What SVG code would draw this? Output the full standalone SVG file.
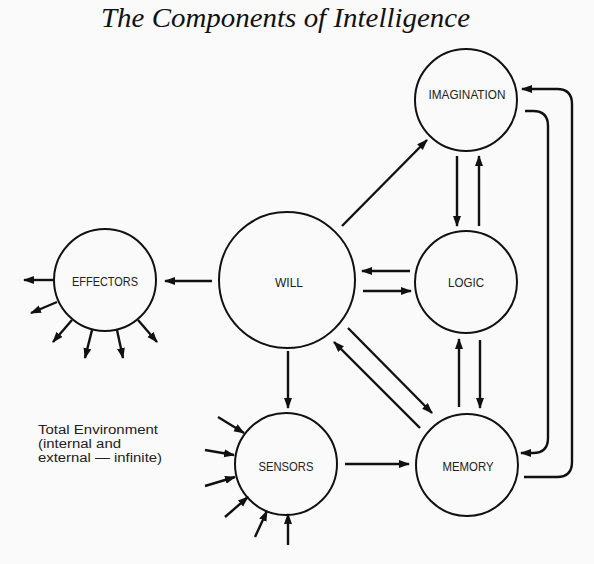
<svg xmlns="http://www.w3.org/2000/svg" width="594" height="564" viewBox="0 0 594 564">
<style>
.node{fill:none;stroke:#111;stroke-width:2}
.lbl{font-family:"Liberation Sans",Arial,sans-serif;font-size:13px;fill:#222;text-anchor:middle}
.c{fill:none;stroke:#111;stroke-width:2.4;marker-end:url(#ah)}
.title{font-family:"Liberation Serif","Times New Roman",serif;font-style:italic;font-size:27px;fill:#111}
.env{font-family:"Liberation Sans",Arial,sans-serif;font-size:12.5px;fill:#222}
</style>
<defs>
<marker id="ah" markerUnits="userSpaceOnUse" markerWidth="12" markerHeight="10" refX="10" refY="4" orient="auto">
<path d="M0,0 L11,4 L0,8 Z" fill="#111"/>
</marker>
</defs>
<rect width="594" height="564" fill="#fafafa"/>
<text class="title" x="101" y="27" textLength="369" lengthAdjust="spacingAndGlyphs">The Components of Intelligence</text>

<g id="imagination"><circle class="node" cx="466" cy="100" r="51"/><text class="lbl" x="467" y="99" textLength="77" lengthAdjust="spacingAndGlyphs">IMAGINATION</text></g>
<g id="logic"><circle class="node" cx="466" cy="282" r="51"/><text class="lbl" x="466" y="287" textLength="36" lengthAdjust="spacingAndGlyphs">LOGIC</text></g>
<g id="memory"><circle class="node" cx="467" cy="465" r="51"/><text class="lbl" x="468" y="471" textLength="51" lengthAdjust="spacingAndGlyphs">MEMORY</text></g>
<g id="will"><circle class="node" cx="287" cy="280" r="68"/><text class="lbl" x="289" y="287" textLength="28" lengthAdjust="spacingAndGlyphs">WILL</text></g>
<g id="effectors"><circle class="node" cx="105" cy="280" r="51"/><text class="lbl" x="105" y="286" textLength="66" lengthAdjust="spacingAndGlyphs">EFFECTORS</text></g>
<g id="sensors"><circle class="node" cx="286" cy="464" r="51"/><text class="lbl" x="286" y="471" textLength="55" lengthAdjust="spacingAndGlyphs">SENSORS</text></g>
<g id="environment"><text class="env" x="38" y="434" textLength="120" lengthAdjust="spacingAndGlyphs">Total Environment</text><text class="env" x="38" y="448" textLength="83" lengthAdjust="spacingAndGlyphs">(internal and</text><text class="env" x="38" y="462" textLength="124" lengthAdjust="spacingAndGlyphs">external — infinite)</text></g>

<g id="connectors">
<path class="c" d="M342,226 L427,140"/>
<path class="c" d="M457,156 V226"/>
<path class="c" d="M479,226 V156"/>
<path class="c" d="M410,271 H362"/>
<path class="c" d="M363,291 H411"/>
<path class="c" d="M212,281 H165"/>
<path class="c" d="M288,351 V408"/>
<path class="c" d="M345,464 H409"/>
<path class="c" d="M348,328 L432,413"/>
<path class="c" d="M420,428 L334,342"/>
<path class="c" d="M459,407 V339"/>
<path class="c" d="M480,340 V408"/>
<path class="c" d="M525,111 H533 Q548,111 548,126 V438 Q548,453 533,453 H521"/>
<path class="c" d="M524,477 H557 Q572,477 572,462 V104 Q572,89 557,89 H522"/>
<path class="c" d="M53,280 H24"/>
<path class="c" d="M57,302 L31,313"/>
<path class="c" d="M72,320 L53,342"/>
<path class="c" d="M92,330 L85,358"/>
<path class="c" d="M117,330 L123,358"/>
<path class="c" d="M138,320 L157,342"/>
<path class="c" d="M218,417 L244,433"/>
<path class="c" d="M205,450 L234,455"/>
<path class="c" d="M205,486 L235,477"/>
<path class="c" d="M225,517 L248,497"/>
<path class="c" d="M255,537 L267,511"/>
<path class="c" d="M288,545 V514"/>
</g>
</svg>
